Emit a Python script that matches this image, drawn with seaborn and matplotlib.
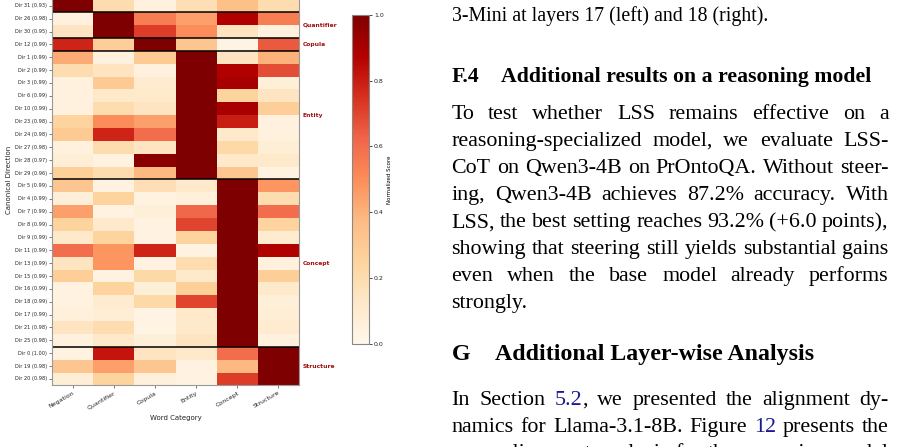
#!/usr/bin/env python3

import pandas as pd
import seaborn as sns
import matplotlib.pyplot as plt

# Heatmap data, rows top to bottom (the page crop starts inside the Negation group)
categories = ["Negation", "Quantifier", "Copula", "Entity", "Concept", "Structure"]
directions = [
    "Dir 31 (0.93)",
    "Dir 26 (0.98)", "Dir 30 (0.95)",
    "Dir 12 (0.99)",
    "Dir 1 (0.99)", "Dir 2 (0.99)", "Dir 3 (0.99)", "Dir 6 (0.99)", "Dir 10 (0.99)",
    "Dir 23 (0.98)", "Dir 24 (0.98)", "Dir 27 (0.98)", "Dir 28 (0.97)", "Dir 29 (0.96)",
    "Dir 5 (0.99)", "Dir 4 (0.99)", "Dir 7 (0.99)", "Dir 8 (0.99)", "Dir 9 (0.99)",
    "Dir 11 (0.99)", "Dir 13 (0.99)", "Dir 15 (0.99)", "Dir 16 (0.99)", "Dir 18 (0.99)",
    "Dir 17 (0.99)", "Dir 21 (0.98)", "Dir 25 (0.98)",
    "Dir 0 (1.00)", "Dir 19 (0.98)", "Dir 20 (0.98)",
]
scores = [
    [1.00, 0.20, 0.05, 0.18, 0.35, 0.20],
    [0.05, 1.00, 0.55, 0.45, 0.88, 0.55],
    [0.15, 1.00, 0.72, 0.50, 0.15, 0.05],
    [0.78, 0.28, 1.00, 0.32, 0.03, 0.65],
    [0.42, 0.05, 0.30, 1.00, 0.15, 0.40],
    [0.20, 0.15, 0.05, 1.00, 0.88, 0.68],
    [0.05, 0.30, 0.10, 1.00, 0.90, 0.07],
    [0.05, 0.12, 0.12, 1.00, 0.25, 0.15],
    [0.05, 0.20, 0.15, 1.00, 0.90, 0.28],
    [0.25, 0.50, 0.45, 1.00, 0.80, 0.05],
    [0.30, 0.78, 0.60, 1.00, 0.12, 0.05],
    [0.05, 0.20, 0.15, 1.00, 0.22, 0.08],
    [0.08, 0.04, 0.97, 1.00, 0.12, 0.12],
    [0.27, 0.20, 0.38, 1.00, 0.32, 0.04],
    [0.32, 0.04, 0.18, 0.12, 1.00, 0.48],
    [0.07, 0.25, 0.04, 0.06, 1.00, 0.20],
    [0.45, 0.04, 0.07, 0.62, 1.00, 0.60],
    [0.25, 0.12, 0.04, 0.70, 1.00, 0.25],
    [0.12, 0.25, 0.04, 0.25, 1.00, 0.10],
    [0.60, 0.48, 0.78, 0.04, 1.00, 0.88],
    [0.15, 0.48, 0.04, 0.20, 1.00, 0.05],
    [0.28, 0.04, 0.22, 0.12, 1.00, 0.28],
    [0.04, 0.25, 0.07, 0.27, 1.00, 0.12],
    [0.04, 0.10, 0.22, 0.70, 1.00, 0.07],
    [0.06, 0.08, 0.03, 0.12, 1.00, 0.08],
    [0.15, 0.20, 0.03, 0.12, 1.00, 0.10],
    [0.05, 0.12, 0.07, 0.15, 1.00, 0.05],
    [0.04, 0.82, 0.15, 0.12, 0.60, 1.00],
    [0.32, 0.45, 0.32, 0.04, 0.38, 1.00],
    [0.08, 0.25, 0.06, 0.04, 0.72, 1.00],
]
# visible rows per group (Negation continues above the crop)
group_names = ["Negation", "Quantifier", "Copula", "Entity", "Concept", "Structure"]
group_sizes = [1, 2, 1, 10, 13, 3]

# Page text to the right of the figure
caption_tail = "3-Mini at layers 17 (left) and 18 (right)."
heading_f4 = ("F.4", "Additional results on a reasoning model")
body_f4 = [
    "To test whether LSS remains effective on a",
    "reasoning-specialized model, we evaluate LSS-",
    "CoT on Qwen3-4B on PrOntoQA. Without steer-",
    "ing, Qwen3-4B achieves 87.2% accuracy.  With",
    "LSS, the best setting reaches 93.2% (+6.0 points),",
    "showing that steering still yields substantial gains",
    "even when the base model already performs",
    "strongly.",
]
heading_g = ("G", "Additional Layer-wise Analysis")
body_g = [
    "In Section [5.2], we presented the alignment dy-",
    "namics for Llama-3.1-8B. Figure [12] presents the",
    "same alignment analysis for the reasoning model",
]

W, H = 897, 447
LINK = "#1a1a8f"
SERIF = "Liberation Serif"

fig = plt.figure(figsize=(W / 100, H / 100), dpi=100)
ax = fig.add_axes([52 / W, 1 - 385.4 / H, 247 / W, 411.8 / H])
cax = fig.add_axes([352 / W, 1 - 344 / H, 16.5 / W, 329.3 / H])

df = pd.DataFrame(scores, index=directions, columns=categories)
sns.heatmap(df, ax=ax, cbar_ax=cax, cmap="OrRd", vmin=0, vmax=1,
            xticklabels=True, yticklabels=True,
            cbar_kws={"label": "Normalized Score"})
ax.set_ylim(len(directions), -2)

ax.set_yticklabels(directions, rotation=0, fontsize=3.6, color="#222")
ax.set_xticklabels(categories, rotation=30, ha="right", rotation_mode="anchor",
                   fontsize=4.5, color="#222")
ax.tick_params(length=2, width=0.5, pad=1.5, color="#444")
ax.set_xlabel("Word Category", fontsize=5, color="#222", labelpad=3)
ax.set_ylabel("Canonical Direction", fontsize=5, color="#222", labelpad=2)
for sp in ax.spines.values():
    sp.set_visible(True)
    sp.set_color("#999")
    sp.set_linewidth(0.8)

# group separators and labels
start = 0
for i, (name, size) in enumerate(zip(group_names, group_sizes)):
    if i > 0:
        ax.axhline(start, color="black", lw=1.1)
        ax.text(1.015, start + size / 2, name, transform=ax.get_yaxis_transform(),
                fontsize=4.3, fontweight="bold", color="#a01010", va="center",
                ha="left", clip_on=False,
                bbox=dict(boxstyle="square,pad=0.15", fc="white", ec="none"))
    start += size

cbar = ax.collections[0].colorbar
cbar.outline.set_edgecolor("#888")
cbar.outline.set_linewidth(0.8)
cax.tick_params(labelsize=4.5, length=2.5, width=0.5, pad=1.5, labelcolor="#222")
cax.yaxis.label.set_size(4)
cax.yaxis.labelpad = 2

# page text
renderer = fig.canvas.get_renderer()


def width_px(s, **kw):
    t = fig.text(0, 0, s, **kw)
    w = t.get_window_extent(renderer).width
    t.remove()
    return w


def pieces(word):
    out = []
    for i, part in enumerate(word.replace("]", "[").split("[")):
        if part:
            out.append((part, LINK if i % 2 else "black"))
    return out


def put_line(line, y, x0=451.5, x1=888.5, justify=True, **kw):
    if not justify:
        fig.text(x0 / W, 1 - y / H, line, va="baseline", ha="left", **kw)
        return
    words = [pieces(w) for w in line.split()]
    widths = [[width_px(p, **kw) for p, _ in w] for w in words]
    total = sum(sum(ws) for ws in widths)
    gap = (x1 - x0 - total) / (len(words) - 1)
    x = x0
    for w, ws in zip(words, widths):
        for (p, c), pw in zip(w, ws):
            fig.text(x / W, 1 - y / H, p, color=c, va="baseline", ha="left", **kw)
            x += pw
        x += gap


body = dict(family=SERIF, fontsize=15.8)
put_line(caption_tail, 20.7, justify=False, family=SERIF, fontsize=14.3)

sub = dict(family=SERIF, fontsize=15.7, fontweight="bold")
put_line(heading_f4[0], 81.7, justify=False, **sub)
put_line(heading_f4[1], 81.7, x0=501, justify=False, **sub)
for i, line in enumerate(body_f4):
    put_line(line, 119 + 27.04 * i, justify=(i < len(body_f4) - 1), **body)

sec = dict(family=SERIF, fontsize=17.2, fontweight="bold")
put_line(heading_g[0], 360, justify=False, **sec)
put_line(heading_g[1], 360, x0=495, justify=False, **sec)
for i, line in enumerate(body_g):
    put_line(line, 405 + 26.7 * i, **body)

fig.savefig("out.png", dpi=100)
